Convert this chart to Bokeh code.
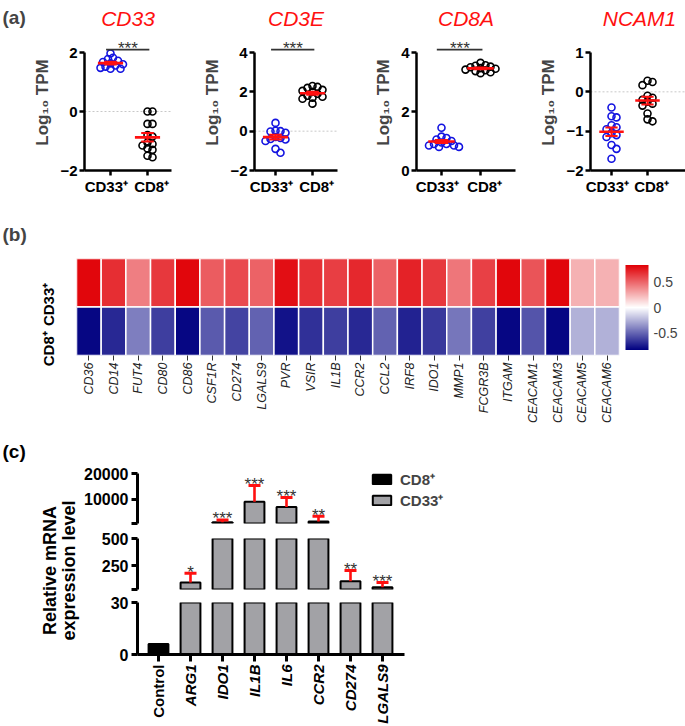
import math
import numpy as np
from bokeh.plotting import figure
from bokeh.layouts import column, row
from bokeh.models import (FixedTicker, Range1d, FactorRange, LinearColorMapper,
                          ColorBar, Span, Legend, LegendItem, ColumnDataSource)
from bokeh.transform import transform
from bokeh.core.properties import value
from bokeh.embed import file_html
from bokeh.resources import INLINE

FONT = "Liberation Sans"

# ---------------- data: panel (a) ----------------
a_groups = ["CD33⁺", "CD8⁺"]
a_genes = ["CD33", "CD3E", "CD8A", "NCAM1"]
cd33_cd33pos = [1.97, 1.82, 1.78, 1.72, 1.68, 1.63, 1.60, 1.56, 1.52, 1.48, 1.45, 1.45]
cd33_cd8pos = [0.0, 0.0, -0.42, -0.42, -0.80, -0.85, -1.05, -1.10, -1.15, -1.25, -1.30, -1.55, -1.50]
cd3e_cd33pos = [0.42, 0.02, -0.02, -0.08, 0.0, -0.30, -0.35, -0.40, -0.42, -0.50, -0.90, -1.10]
cd3e_cd8pos = [2.30, 2.25, 2.20, 2.10, 2.05, 2.00, 1.90, 1.80, 1.75, 1.70, 1.65, 1.40]
cd8a_cd33pos = [1.45, 1.15, 1.10, 1.05, 1.00, 0.95, 0.90, 0.90, 0.85, 0.85, 0.80, 0.80]
cd8a_cd8pos = [3.65, 3.57, 3.52, 3.50, 3.47, 3.45, 3.42, 3.40, 3.37, 3.33, 3.30, 3.55]
ncam1_cd33pos = [-0.40, -0.62, -0.65, -0.85, -0.90, -0.95, -1.05, -1.10, -1.15, -1.35, -1.45, -1.70]
ncam1_cd8pos = [0.28, 0.25, 0.17, -0.10, -0.15, -0.20, -0.25, -0.30, -0.35, -0.55, -0.70, -0.75]
a_values = [(cd33_cd33pos, cd33_cd8pos), (cd3e_cd33pos, cd3e_cd8pos),
            (cd8a_cd33pos, cd8a_cd8pos), (ncam1_cd33pos, ncam1_cd8pos)]
a_axis = [(-2, 2), (-2, 4), (0, 4), (-2, 1)]
a_ticks = [[-2, 0, 2], [-2, 0, 2, 4], [0, 2, 4], [-2, -1, 0, 1]]
a_sig = ["***", "***", "***", ""]

# ---------------- data: panel (b) ----------------
b_genes = ["CD36", "CD14", "FUT4", "CD80", "CD86", "CSF1R", "CD274", "LGALS9", "PVR",
           "VSIR", "IL1B", "CCR2", "CCL2", "IRF8", "IDO1", "MMP1", "FCGR3B", "ITGAM",
           "CEACAM1", "CEACAM3", "CEACAM5", "CEACAM6"]
b_rows = ["CD8⁺", "CD33⁺"]
b_cd33pos = [0.80, 0.67, 0.41, 0.64, 0.80, 0.52, 0.58, 0.50, 0.77, 0.66, 0.62, 0.69,
             0.50, 0.71, 0.64, 0.44, 0.61, 0.80, 0.55, 0.80, 0.25, 0.25]
b_cd8pos = [-0.80, -0.69, -0.41, -0.62, -0.80, -0.53, -0.60, -0.50, -0.76, -0.66, -0.62, -0.69,
            -0.50, -0.71, -0.64, -0.44, -0.61, -0.80, -0.55, -0.80, -0.25, -0.25]
b_ticks = [-0.5, 0, 0.5]

# ---------------- data: panel (c) ----------------
c_genes = ["Control", "ARG1", "IDO1", "IL1B", "IL6", "CCR2", "CD274", "LGALS9"]
c_expr = [6, 95, 1000, 9000, 6900, 1300, 105, 50]
c_err = [0, 85, 900, 6300, 3700, 2000, 100, 45]
c_sig = ["", "*", "***", "***", "***", "**", "**", "***"]
c_legend = ["CD8⁺", "CD33⁺"]
c_segments = [(500, 20000), (30, 500), (0, 30)]
c_ticks = [[500, 10000, 20000], [30, 250, 500], [0, 30]]
c_tick_labels = [["", "10000", "20000"], ["", "250", "500"], ["0", "30"]]

BLUE = "#1414e0"
RED = "#ff1010"
GRAY = "#a2a2a6"


def base_fig(**kw):
    p = figure(output_backend="svg", toolbar_location=None, **kw)
    p.xgrid.visible = False
    p.ygrid.visible = False
    p.outline_line_color = None
    p.background_fill_color = "white"
    p.border_fill_color = "white"
    return p


def blank_fig(w, h, **kw):
    return base_fig(width=w, height=h, x_range=Range1d(0, w), y_range=Range1d(0, h),
                    x_axis_location=None, y_axis_location=None, min_border=0, **kw)


def style_axis(ax, size="15px", lw=2.5, tick=5, style="bold"):
    ax.axis_line_width = lw
    ax.axis_line_color = "black"
    ax.major_tick_line_width = lw
    ax.major_tick_line_color = "black"
    ax.major_tick_in = 0
    ax.major_tick_out = tick
    ax.minor_tick_line_color = None
    ax.major_label_text_font = FONT
    ax.major_label_text_font_style = style
    ax.major_label_text_font_size = size
    ax.major_label_text_color = "black"


def swarm(vals, px_x, px_y, d=5.0):
    vals = np.asarray(vals, dtype=float)
    order = np.argsort(-vals, kind="stable")
    placed = []
    offs = np.zeros(len(vals))
    for i in order:
        yp = vals[i] * px_y
        cands = [0.0]
        for m in range(1, 16):
            cands += [m * d * 0.5, -m * d * 0.5]
        for c in cands:
            if all((c - ox) ** 2 + (yp - oy) ** 2 >= d * d for ox, oy in placed):
                break
        placed.append((c, yp))
        offs[i] = c / px_x
    return offs


# ---------------- panel (a) ----------------
A_TOP, A_FH, A_BOT = 33, 136, 27
strip_a = base_fig(frame_width=30, frame_height=A_FH, x_range=Range1d(0, 1), y_range=Range1d(0, 1),
                   x_axis_location=None, y_axis_location=None, min_border_left=0,
                   min_border_right=0, min_border_top=A_TOP, min_border_bottom=A_BOT, title="(a)")
strip_a.title.text_font = FONT
strip_a.title.text_font_style = "bold"
strip_a.title.text_font_size = "19px"
strip_a.title.align = "left"
strip_a.title.vertical_align = "top"
strip_a.title.offset = 2
strip_a.title.standoff = 10

a_layout = [(49, 87, 4, 26, 37), (79, 83, 8, 21, 37), (71, 99, 3, 25, 39), (72, 98, 2, 21, 36)]
HEAD = 18 / 118
NB = "\u00a0"

a_figs = [strip_a]
for k, gene in enumerate(a_genes):
    lb, fw, rb, t1, sp = a_layout[k]
    lo, hi = a_axis[k]
    span = hi - lo
    x0 = 1 - t1 / sp
    x1 = x0 + fw / sp
    p = base_fig(frame_width=fw, frame_height=A_FH, x_range=Range1d(x0, x1),
                 y_range=Range1d(lo, hi + span * HEAD),
                 min_border_left=lb, min_border_right=rb, min_border_top=A_TOP,
                 min_border_bottom=A_BOT, title=gene)
    p.title.text_font = FONT
    p.title.text_font_style = "italic"
    p.title.text_font_size = "21px"
    p.title.text_color = RED
    p.title.align = "center"
    p.title.standoff = 9

    if lo < 0:
        p.add_layout(Span(location=0, dimension="width", line_color="#c8c8c8",
                          line_dash="2 2", line_width=1, level="underlay"))

    px_x = sp
    px_y = 118 / span
    for j, vals in enumerate(a_values[k]):
        cx = j + 1
        offs = swarm(vals, px_x, px_y)
        col = BLUE if j == 0 else "black"
        p.scatter(x=cx + offs, y=vals, marker="circle", size=7, fill_color=None,
                  line_color=col, line_width=1.6)
        m = float(np.mean(vals))
        s = float(np.std(vals, ddof=1) / math.sqrt(len(vals)))
        p.segment(x0=[cx - 0.34], x1=[cx + 0.34], y0=[m], y1=[m], line_color=RED, line_width=2.6)
        p.segment(x0=[cx], x1=[cx], y0=[m - s], y1=[m + s], line_color=RED, line_width=2)
        p.segment(x0=[cx - 0.17, cx - 0.17], x1=[cx + 0.17, cx + 0.17], y0=[m - s, m + s],
                  y1=[m - s, m + s], line_color=RED, line_width=2)

    if a_sig[k]:
        yb = hi + span * 0.025
        p.segment(x0=[0.88], x1=[2.05], y0=[yb], y1=[yb], line_color="#333333", line_width=1.8)
        p.text(x=[1.47], y=[yb], text=[a_sig[k]], text_align="center", text_baseline="alphabetic",
               y_offset=-1, text_font=value(FONT), text_font_size="17px", text_color="#333333")

    style_axis(p.xaxis[0])
    p.xaxis[0].ticker = FixedTicker(ticks=[1, 2])
    p.xaxis[0].major_label_overrides = {1: a_groups[0] + NB + NB, 2: NB + NB + a_groups[1]}
    p.xaxis[0].major_label_standoff = 2
    style_axis(p.yaxis[0])
    p.yaxis[0].ticker = FixedTicker(ticks=a_ticks[k])
    p.yaxis[0].bounds = (lo, hi)
    p.yaxis[0].major_label_standoff = 2
    p.yaxis[0].axis_label = "Log₁₀ TPM"
    p.yaxis[0].axis_label_text_font = FONT
    p.yaxis[0].axis_label_text_font_style = "bold"
    p.yaxis[0].axis_label_text_font_size = "17px"
    p.yaxis[0].axis_label_standoff = 5
    a_figs.append(p)

# ---------------- panel (b) ----------------
def ramp(c0, c1, n):
    t = np.linspace(0, 1, n)[:, None]
    arr = np.array(c0) * (1 - t) + np.array(c1) * t
    return ["#%02x%02x%02x" % tuple(int(round(v)) for v in r) for r in arr]

palette = ramp((0, 0, 128), (255, 255, 255), 128) + ramp((255, 255, 255), (224, 0, 6), 128)
mapper = LinearColorMapper(palette=palette, low=-0.82, high=0.82)

src_b = ColumnDataSource(dict(gene=b_genes + b_genes,
                              grp=[b_rows[1]] * len(b_genes) + [b_rows[0]] * len(b_genes),
                              val=b_cd33pos + b_cd8pos))
hm = base_fig(x_range=FactorRange(factors=b_genes), y_range=FactorRange(factors=b_rows),
              frame_width=543, frame_height=97, min_border_left=76, min_border_right=64,
              min_border_top=61, min_border_bottom=86, title="(b)")
hm.title.text_font = FONT
hm.title.text_font_style = "bold"
hm.title.text_font_size = "19px"
hm.title.align = "left"
hm.title.offset = -74
hm.title.standoff = 27
hm.rect(x="gene", y="grp", width=1, height=1, source=src_b,
        fill_color=transform("val", mapper), line_color="white", line_width=1.5)
xa = hm.xaxis[0]
xa.axis_line_color = None
xa.major_tick_line_color = "#333333"
xa.major_tick_in = 0
xa.major_tick_out = 5
xa.major_label_orientation = math.pi / 2
xa.major_label_text_font = FONT
xa.major_label_text_font_style = "italic"
xa.major_label_text_font_size = "12.5px"
xa.major_label_text_color = "#222222"
xa.major_label_standoff = 2
ya = hm.yaxis[0]
ya.axis_line_color = None
ya.major_tick_line_color = None
ya.major_label_orientation = math.pi / 2
ya.major_label_text_font = FONT
ya.major_label_text_font_style = "bold"
ya.major_label_text_font_size = "15px"
ya.major_label_text_color = "black"
ya.major_label_standoff = 22

cb = ColorBar(color_mapper=mapper, ticker=FixedTicker(ticks=b_ticks), width=23, height=85,
              padding=6, margin=0, label_standoff=5, major_tick_line_color=None,
              major_label_overrides={-0.5: "-0.5", 0: "0", 0.5: "0.5"},
              major_label_text_font=FONT, major_label_text_font_size="14px",
              bar_line_color=None, border_line_color=None, background_fill_alpha=0,
              location="center")
hm.add_layout(cb, "right")

# ---------------- panel (c) ----------------
C_LEFT, C_FW, C_RIGHT = 57, 363, 5
C_SP = 32
cx_range = Range1d(-21 / C_SP, -21 / C_SP + C_FW / C_SP)
seg_geom = [(18, 64, 7), (8, 51, 6), (7, 52, 9)]   # top border, frame height, bottom border
seg_axis_px = [50, 51, 52]
BW = 0.62

xs = np.arange(len(c_genes))
expr = np.array(c_expr, dtype=float)
err = np.array(c_err, dtype=float)
tops = expr + err
is_gene = xs > 0
c_figs = []
for s, (lo, hi) in enumerate(c_segments):
    tb, fh, bb = seg_geom[s]
    end = hi + (hi - lo) * (fh - seg_axis_px[s]) / seg_axis_px[s]
    below = lo - 0.2 * (end - lo)
    p = base_fig(frame_width=C_FW, frame_height=fh, x_range=cx_range,
                 y_range=Range1d(lo, end), min_border_left=C_LEFT, min_border_right=C_RIGHT,
                 min_border_top=tb, min_border_bottom=bb,
                 x_axis_location="below" if s == 2 else None)
    shown = expr > lo
    sel_c = shown & ~is_gene
    sel_g = shown & is_gene
    if sel_c.any():
        p.vbar(x=xs[sel_c], top=expr[sel_c], bottom=below, width=BW, fill_color="black",
               line_color="black", line_width=2)
    if sel_g.any():
        p.vbar(x=xs[sel_g], top=expr[sel_g], bottom=below, width=BW, fill_color=GRAY,
               line_color="black", line_width=2)
    sel_e = is_gene & (tops >= lo) & (tops <= end)
    if sel_e.any():
        p.segment(x0=xs[sel_e], x1=xs[sel_e], y0=expr[sel_e], y1=tops[sel_e],
                  line_color=RED, line_width=2.6)
        p.scatter(x=xs[sel_e], y=tops[sel_e], marker="dash", size=12, line_color=RED, line_width=3)
        p.text(x=xs[sel_e], y=tops[sel_e], text=[c_sig[i] for i in xs[sel_e]],
               text_align="center", text_baseline="alphabetic", y_offset=-1,
               text_font=value(FONT), text_font_size="17px", text_color="#333333")
    ya = p.yaxis[0]
    style_axis(ya, size="16px", lw=3, tick=6)
    ya.ticker = FixedTicker(ticks=c_ticks[s])
    ya.major_label_overrides = {t: l for t, l in zip(c_ticks[s], c_tick_labels[s])}
    ya.bounds = (lo, hi)
    ya.major_label_standoff = 3
    if s == 0:
        proxy_c = p.vbar(x=xs[~is_gene], top=expr[~is_gene], width=BW, fill_color="black",
                         line_color="black", line_width=2, visible=False)
        proxy_g = p.vbar(x=xs[is_gene], top=expr[is_gene], width=BW, fill_color=GRAY,
                         line_color="black", line_width=2, visible=False)
        legend = Legend(items=[LegendItem(label=c_legend[0], renderers=[proxy_c], index=0),
                               LegendItem(label=c_legend[1], renderers=[proxy_g], index=0)],
                        location=(233, 13), padding=0, margin=0, spacing=1,
                        glyph_width=23, glyph_height=12, label_height=17, label_standoff=7,
                        label_text_font=FONT, label_text_font_style="bold",
                        label_text_font_size="15px", border_line_color=None,
                        background_fill_alpha=0, inactive_fill_alpha=0)
        p.add_layout(legend)
    if s == 2:
        xa = p.xaxis[0]
        style_axis(xa, size="1px", lw=3, tick=7)
        xa.ticker = FixedTicker(ticks=list(range(len(c_genes))))
        xa.major_label_overrides = {i: "" for i in range(len(c_genes))}
        xa.bounds = (cx_range.start, 7 + 22 / C_SP)
        xa.major_label_standoff = 0
    c_figs.append(p)

xlab = base_fig(frame_width=C_FW, frame_height=64, x_range=cx_range, y_range=Range1d(0, 64),
                min_border_left=C_LEFT, min_border_right=C_RIGHT, min_border_top=0,
                min_border_bottom=0, x_axis_location=None, y_axis_location=None)
xlab.text(x=xs[~is_gene], y=[63] * int((~is_gene).sum()), text=[c_genes[i] for i in xs[~is_gene]],
          angle=math.pi / 2, text_align="right", text_baseline="middle",
          text_font=value(FONT), text_font_style="bold", text_font_size="15px")
xlab.text(x=xs[is_gene], y=[63] * int(is_gene.sum()), text=[c_genes[i] for i in xs[is_gene]],
          angle=math.pi / 2, text_align="right", text_baseline="middle",
          text_font=value(FONT), text_font_style="bold italic", text_font_size="15px")
c_figs.append(xlab)

lab = blank_fig(80, 286)
lab.text(x=[2], y=[276], text=["(c)"], text_align="left", text_baseline="middle",
         text_font=value(FONT), text_font_style="bold", text_font_size="19px")
lab.text(x=[49, 68], y=[157, 157], text=["Relative mRNA", "expression level"], angle=math.pi / 2,
         text_align="center", text_baseline="middle", text_font=value(FONT),
         text_font_style="bold", text_font_size="18px")

layout = column(row(*a_figs), hm, row(lab, column(*c_figs)))
open("out.html", "w").write(file_html(layout, INLINE))
